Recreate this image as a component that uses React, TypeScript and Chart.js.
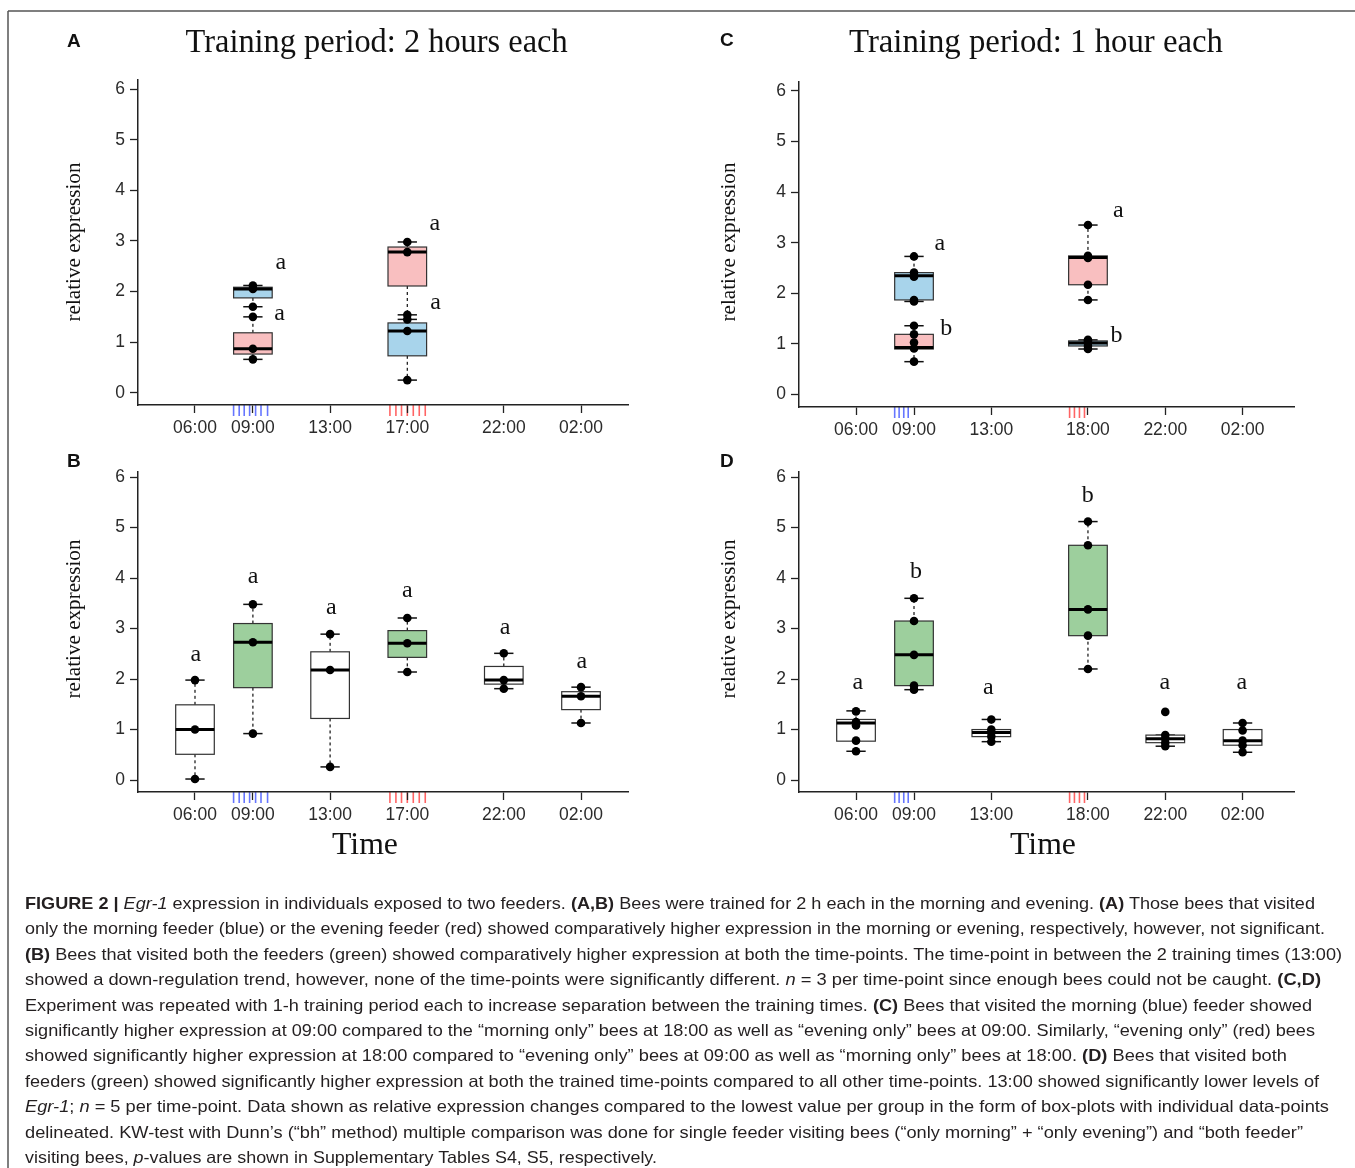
import React, { useEffect, useRef } from "react";
import { Chart, registerables } from "chart.js";
Chart.register(...registerables);

// ---------------- data ----------------
const yTickValues = [0, 1, 2, 3, 4, 5, 6];
const xTicks2h = [6, 9, 13, 17, 22, 26];
const xLabels2h = ["06:00", "09:00", "13:00", "17:00", "22:00", "02:00"];
const xTicks1h = [6, 9, 13, 18, 22, 26];
const xLabels1h = ["06:00", "09:00", "13:00", "18:00", "22:00", "02:00"];

// training visits (rug marks under the axis), hours
const rugMorning2h = [8.0, 8.29, 8.55, 8.83, 9.14, 9.42, 9.76];
const rugEvening2h = [16.1, 16.41, 16.7, 17.0, 17.31, 17.62, 17.93];
const rugMorning1h = [8.0, 8.23, 8.47, 8.7];
const rugEvening1h = [17.05, 17.3, 17.56, 17.82];

// Panel A: single feeder, 2 h training. stats = [low whisker, Q1, median, Q3, high whisker]
const aTimes = [9, 9, 17, 17];
const aFeeders = ["morning", "evening", "evening", "morning"];
const aStats = [
  [1.7, 1.875, 2.05, 2.085, 2.12],
  [0.66, 0.765, 0.87, 1.185, 1.5],
  [1.45, 2.11, 2.78, 2.88, 2.98],
  [0.25, 0.73, 1.22, 1.38, 1.54],
];
const aPoints = [
  [1.7, 2.05, 2.12],
  [0.66, 0.87, 1.5],
  [1.45, 2.78, 2.98],
  [0.25, 1.22, 1.54],
];
const aLetters = ["a", "a", "a", "a"];
const aLetterX = [10.45, 10.38, 18.43, 18.47];
const aLetterY = [2.55, 1.55, 3.32, 1.76];

// Panel B: both feeders, 2 h training
const bTimes = [6, 9, 13, 17, 22, 26];
const bFeeders = ["none", "both", "none", "both", "none", "none"];
const bStats = [
  [0.02, 0.51, 1.0, 1.49, 1.98],
  [0.92, 1.83, 2.73, 3.1, 3.48],
  [0.26, 1.22, 2.18, 2.54, 2.89],
  [2.14, 2.43, 2.71, 2.96, 3.21],
  [1.81, 1.9, 1.98, 2.25, 2.51],
  [1.13, 1.395, 1.66, 1.75, 1.84],
];
const bPoints = [
  [0.02, 1.0, 1.98],
  [0.92, 2.73, 3.48],
  [0.26, 2.18, 2.89],
  [2.14, 2.71, 3.21],
  [1.81, 1.98, 2.51],
  [1.13, 1.66, 1.84],
];
const bLetters = ["a", "a", "a", "a", "a", "a"];
const bLetterX = [6.04, 9.01, 13.06, 17.0, 22.06, 26.04];
const bLetterY = [2.46, 4.01, 3.4, 3.73, 2.99, 2.33];

// Panel C: single feeder, 1 h training
const cTimes = [9, 9, 18, 18];
const cFeeders = ["morning", "evening", "evening", "morning"];
const cStats = [
  [1.84, 1.87, 2.35, 2.41, 2.73],
  [0.65, 0.9, 0.93, 1.19, 1.36],
  [1.87, 2.17, 2.71, 2.74, 3.35],
  [0.9, 0.96, 1.02, 1.06, 1.08],
];
const cPoints = [
  [1.84, 1.87, 2.33, 2.41, 2.73],
  [0.65, 0.91, 1.03, 1.19, 1.36],
  [1.87, 2.17, 2.7, 2.74, 3.35],
  [0.9, 0.96, 1.02, 1.06, 1.08],
];
const cLetters = ["a", "b", "a", "b"];
const cLetterX = [10.33, 10.67, 19.57, 19.48];
const cLetterY = [2.97, 1.33, 3.61, 1.2];

// Panel D: both feeders, 1 h training
const dTimes = [6, 9, 13, 18, 22, 26];
const dFeeders = ["none", "both", "none", "both", "none", "none"];
const dStats = [
  [0.57, 0.77, 1.13, 1.2, 1.37],
  [1.79, 1.87, 2.48, 3.15, 3.6],
  [0.76, 0.86, 0.94, 1.0, 1.2],
  [2.2, 2.86, 3.38, 4.65, 5.12],
  [0.67, 0.74, 0.82, 0.89, 0.89],
  [0.55, 0.69, 0.78, 1.0, 1.13],
];
const dPoints = [
  [0.57, 0.78, 1.08, 1.15, 1.36],
  [1.79, 1.87, 2.48, 3.15, 3.6],
  [0.76, 0.86, 0.94, 1.0, 1.2],
  [2.2, 2.86, 3.38, 4.65, 5.12],
  [0.67, 0.74, 0.82, 0.89, 1.35],
  [0.55, 0.69, 0.78, 0.98, 1.13],
];
const dLetters = ["a", "b", "a", "b", "a", "a"];
const dLetterX = [6.09, 9.1, 12.85, 17.99, 21.98, 25.96];
const dLetterY = [1.91, 4.17, 1.81, 5.68, 1.91, 1.91];

// ---------------- styling ----------------
const FILL: Record<string, string> = {
  morning: "#a8d4eb",
  evening: "#f9bfc0",
  both: "#9dcf9d",
  none: "#ffffff",
};
const RUG_BLUE = "#6676ff";
const RUG_RED = "#ff6464";
const BOX_HALF = 1.0; // hours
const YW = 60;
const XH = 50;
const PT = 14;
const PR = 14;
const SANS = "'Liberation Sans', Arial, sans-serif";
const SERIF = "'Liberation Serif', 'Times New Roman', serif";

type PanelSpec = {
  area: { left: number; top: number; right: number; bottom: number };
  xMin: number;
  xMax: number;
  yMin: number;
  yMax: number;
  xTicks: number[];
  xLabels: string[];
  times: number[];
  feeders: string[];
  stats: number[][];
  points: number[][];
  letters: string[];
  letterX: number[];
  letterY: number[];
  rugBlue: number[];
  rugRed: number[];
};

const panels: PanelSpec[] = [
  {
    area: { left: 138, top: 78, right: 628, bottom: 405 },
    xMin: 3.047, xMax: 28.435, yMin: -0.242, yMax: 6.191,
    xTicks: xTicks2h, xLabels: xLabels2h,
    times: aTimes, feeders: aFeeders, stats: aStats, points: aPoints,
    letters: aLetters, letterX: aLetterX, letterY: aLetterY,
    rugBlue: rugMorning2h, rugRed: rugEvening2h,
  },
  {
    area: { left: 138, top: 470, right: 628, bottom: 792 },
    xMin: 3.047, xMax: 28.435, yMin: -0.237, yMax: 6.112,
    xTicks: xTicks2h, xLabels: xLabels2h,
    times: bTimes, feeders: bFeeders, stats: bStats, points: bPoints,
    letters: bLetters, letterX: bLetterX, letterY: bLetterY,
    rugBlue: rugMorning2h, rugRed: rugEvening2h,
  },
  {
    area: { left: 799, top: 80, right: 1294, bottom: 407 },
    xMin: 3.05, xMax: 28.66, yMin: -0.246, yMax: 6.187,
    xTicks: xTicks1h, xLabels: xLabels1h,
    times: cTimes, feeders: cFeeders, stats: cStats, points: cPoints,
    letters: cLetters, letterX: cLetterX, letterY: cLetterY,
    rugBlue: rugMorning1h, rugRed: rugEvening1h,
  },
  {
    area: { left: 799, top: 470, right: 1294, bottom: 792 },
    xMin: 3.05, xMax: 28.66, yMin: -0.237, yMax: 6.112,
    xTicks: xTicks1h, xLabels: xLabels1h,
    times: dTimes, feeders: dFeeders, stats: dStats, points: dPoints,
    letters: dLetters, letterX: dLetterX, letterY: dLetterY,
    rugBlue: rugMorning1h, rugRed: rugEvening1h,
  },
];

function makePlugin(spec: PanelSpec) {
  const line = (ctx: CanvasRenderingContext2D, x1: number, y1: number, x2: number, y2: number) => {
    ctx.beginPath();
    ctx.moveTo(x1, y1);
    ctx.lineTo(x2, y2);
    ctx.stroke();
  };
  return {
    id: "boxplotPanel",
    beforeDraw(chart: any) {
      const ctx = chart.ctx as CanvasRenderingContext2D;
      const xs = chart.scales.x;
      const y0 = chart.chartArea.bottom;
      ctx.save();
      ctx.lineWidth = 1.6;
      const rug = (vals: number[], color: string) => {
        ctx.strokeStyle = color;
        vals.forEach((v) => {
          const px = xs.getPixelForValue(v);
          line(ctx, px, y0, px, y0 + 11);
        });
      };
      rug(spec.rugBlue, RUG_BLUE);
      rug(spec.rugRed, RUG_RED);
      ctx.restore();
    },
    beforeDatasetsDraw(chart: any) {
      const ctx = chart.ctx as CanvasRenderingContext2D;
      const xs = chart.scales.x;
      const ys = chart.scales.y;
      ctx.save();
      spec.stats.forEach((s, i) => {
        const [lo, q1, med, q3, hi] = s;
        const cx = xs.getPixelForValue(spec.times[i]);
        const hw = xs.getPixelForValue(spec.times[i] + BOX_HALF) - cx;
        const pLo = ys.getPixelForValue(lo);
        const pQ1 = ys.getPixelForValue(q1);
        const pMed = ys.getPixelForValue(med);
        const pQ3 = ys.getPixelForValue(q3);
        const pHi = ys.getPixelForValue(hi);
        ctx.strokeStyle = "#111";
        ctx.lineWidth = 1.2;
        ctx.setLineDash([3, 3]);
        line(ctx, cx, pQ3, cx, pHi);
        line(ctx, cx, pQ1, cx, pLo);
        ctx.setLineDash([]);
        ctx.lineWidth = 1.5;
        line(ctx, cx - hw / 2, pHi, cx + hw / 2, pHi);
        line(ctx, cx - hw / 2, pLo, cx + hw / 2, pLo);
        ctx.fillStyle = FILL[spec.feeders[i]];
        ctx.fillRect(cx - hw, pQ3, 2 * hw, pQ1 - pQ3);
        ctx.lineWidth = 1.2;
        ctx.strokeStyle = "#333";
        ctx.strokeRect(cx - hw, pQ3, 2 * hw, pQ1 - pQ3);
        ctx.lineWidth = 3;
        ctx.strokeStyle = "#000";
        line(ctx, cx - hw, pMed, cx + hw, pMed);
      });
      ctx.restore();
    },
    afterDatasetsDraw(chart: any) {
      const ctx = chart.ctx as CanvasRenderingContext2D;
      const xs = chart.scales.x;
      const ys = chart.scales.y;
      ctx.save();
      ctx.fillStyle = "#111";
      ctx.font = `24px ${SERIF}`;
      ctx.textAlign = "center";
      ctx.textBaseline = "alphabetic";
      spec.letters.forEach((t, i) => {
        const px = xs.getPixelForValue(spec.letterX[i]);
        const py = ys.getPixelForValue(spec.letterY[i]);
        ctx.fillText(t, px, py + (t === "b" ? 8.2 : 5.4));
      });
      ctx.restore();
    },
  };
}

function Panel({ spec }: { spec: PanelSpec }) {
  const ref = useRef<HTMLCanvasElement | null>(null);
  const W = YW + (spec.area.right - spec.area.left) + PR;
  const H = PT + (spec.area.bottom - spec.area.top) + XH;
  useEffect(() => {
    const pts: { x: number; y: number }[] = [];
    spec.points.forEach((arr, i) => arr.forEach((v) => pts.push({ x: spec.times[i], y: v })));
    const chart = new Chart(ref.current as HTMLCanvasElement, {
      type: "scatter",
      data: {
        datasets: [
          {
            data: pts,
            pointRadius: 4.3,
            pointHoverRadius: 4.3,
            pointBackgroundColor: "#000",
            pointBorderWidth: 0,
            showLine: false,
          } as any,
        ],
      },
      plugins: [makePlugin(spec)],
      options: {
        animation: false,
        responsive: false,
        events: [],
        layout: { padding: { top: PT, right: PR, left: 0, bottom: 0 } },
        plugins: { legend: { display: false }, tooltip: { enabled: false }, title: { display: false } },
        scales: {
          x: {
            type: "linear",
            min: spec.xMin,
            max: spec.xMax,
            afterFit: (s: any) => {
              s.height = XH;
            },
            afterBuildTicks: (s: any) => {
              s.ticks = spec.xTicks.map((v) => ({ value: v }));
            },
            ticks: {
              autoSkip: false,
              maxRotation: 0,
              padding: 5,
              color: "#2b2b2b",
              font: { family: SANS, size: 17.5 },
              callback: (v: any) => {
                const k = spec.xTicks.indexOf(Number(v));
                return k >= 0 ? spec.xLabels[k] : "";
              },
            },
            grid: { display: true, drawOnChartArea: false, drawTicks: true, tickLength: 8, tickWidth: 1.3, tickColor: "#222" },
            border: { display: true, color: "#222", width: 1.5 },
          },
          y: {
            type: "linear",
            min: spec.yMin,
            max: spec.yMax,
            afterFit: (s: any) => {
              s.width = YW;
            },
            afterBuildTicks: (s: any) => {
              s.ticks = yTickValues.map((v) => ({ value: v }));
            },
            ticks: {
              autoSkip: false,
              padding: 5,
              color: "#2b2b2b",
              font: { family: SANS, size: 17.5 },
              callback: (v: any) => String(v),
            },
            grid: { display: true, drawOnChartArea: false, drawTicks: true, tickLength: 8, tickWidth: 1.3, tickColor: "#222" },
            border: { display: true, color: "#222", width: 1.5 },
          },
        },
      } as any,
    });
    return () => chart.destroy();
  }, []);
  return (
    <canvas
      ref={ref}
      width={W}
      height={H}
      style={{ position: "absolute", left: spec.area.left - YW, top: spec.area.top - PT, width: W, height: H }}
    />
  );
}

// ---------------- caption ----------------
type Seg = [string, string];
const captionLines: Seg[][] = [
  [["FIGURE 2 | ", "b"], ["Egr-1", "i"], [" expression in individuals exposed to two feeders. ", ""], ["(A,B)", "b"], [" Bees were trained for 2 h each in the morning and evening. ", ""], ["(A)", "b"], [" Those bees that visited", ""]],
  [["only the morning feeder (blue) or the evening feeder (red) showed comparatively higher expression in the morning or evening, respectively, however, not significant.", ""]],
  [["(B)", "b"], [" Bees that visited both the feeders (green) showed comparatively higher expression at both the time-points. The time-point in between the 2 training times (13:00)", ""]],
  [["showed a down-regulation trend, however, none of the time-points were significantly different. ", ""], ["n", "i"], [" = 3 per time-point since enough bees could not be caught. ", ""], ["(C,D)", "b"]],
  [["Experiment was repeated with 1-h training period each to increase separation between the training times. ", ""], ["(C)", "b"], [" Bees that visited the morning (blue) feeder showed", ""]],
  [["significantly higher expression at 09:00 compared to the \u201cmorning only\u201d bees at 18:00 as well as \u201cevening only\u201d bees at 09:00. Similarly, \u201cevening only\u201d (red) bees", ""]],
  [["showed significantly higher expression at 18:00 compared to \u201cevening only\u201d bees at 09:00 as well as \u201cmorning only\u201d bees at 18:00. ", ""], ["(D)", "b"], [" Bees that visited both", ""]],
  [["feeders (green) showed significantly higher expression at both the trained time-points compared to all other time-points. 13:00 showed significantly lower levels of", ""]],
  [["Egr-1", "i"], ["; ", ""], ["n", "i"], [" = 5 per time-point. Data shown as relative expression changes compared to the lowest value per group in the form of box-plots with individual data-points", ""]],
  [["delineated. KW-test with Dunn\u2019s (\u201cbh\u201d method) multiple comparison was done for single feeder visiting bees (\u201conly morning\u201d + \u201conly evening\u201d) and \u201cboth feeder\u201d", ""]],
  [["visiting bees, ", ""], ["p", "i"], ["-values are shown in Supplementary Tables S4, S5, respectively.", ""]],
];
const captionEnds = [1315, 1325, 1342, 1321, 1312, 1315, 1287, 1319, 1329, 1303, 657];

export default function App() {
  const capX = 25;
  const capBase = 909;
  const capStep = 25.4;
  return (
    <div style={{ position: "absolute", left: 0, top: 0, width: 1355, height: 1168, overflow: "hidden", background: "#fff" }}>
      {panels.map((p, i) => (
        <Panel key={i} spec={p} />
      ))}
      <svg width={1355} height={1168} style={{ position: "absolute", left: 0, top: 0, pointerEvents: "none" }}>
        <line x1={8} y1={11} x2={1355} y2={11} stroke="#555" strokeWidth={1.5} />
        <line x1={8} y1={11} x2={8} y2={1168} stroke="#555" strokeWidth={1.5} />
        {/* panel letters */}
        <g fontFamily={SANS} fontWeight={700} fontSize={19} fill="#111">
          <text x={67} y={47}>A</text>
          <text x={720} y={46}>C</text>
          <text x={67} y={467}>B</text>
          <text x={720} y={467}>D</text>
        </g>
        {/* titles */}
        <g fontFamily={SERIF} fontSize={33} fill="#111">
          <text x={185.6} y={51.7} textLength={382} lengthAdjust="spacingAndGlyphs">Training period: 2 hours each</text>
          <text x={849} y={51.7} textLength={374} lengthAdjust="spacingAndGlyphs">Training period: 1 hour each</text>
        </g>
        {/* y axis titles */}
        <g fontFamily={SERIF} fontSize={21} fill="#111" textAnchor="middle">
          <text transform="translate(80,242) rotate(-90)" textLength={159} lengthAdjust="spacingAndGlyphs">relative expression</text>
          <text transform="translate(735,242) rotate(-90)" textLength={159} lengthAdjust="spacingAndGlyphs">relative expression</text>
          <text transform="translate(80,619) rotate(-90)" textLength={159} lengthAdjust="spacingAndGlyphs">relative expression</text>
          <text transform="translate(735,619) rotate(-90)" textLength={159} lengthAdjust="spacingAndGlyphs">relative expression</text>
        </g>
        {/* x axis titles */}
        <g fontFamily={SERIF} fontSize={31} fill="#111">
          <text x={332} y={854.3} textLength={66} lengthAdjust="spacingAndGlyphs">Time</text>
          <text x={1010} y={854.3} textLength={66} lengthAdjust="spacingAndGlyphs">Time</text>
        </g>
        {/* caption */}
        <g fontFamily={SANS} fontSize={16.5} fill="#231f20" style={{ whiteSpace: "pre" }}>
          {captionLines.map((segs, i) => (
            <text key={i} x={capX} y={capBase + capStep * i} textLength={captionEnds[i] - capX} lengthAdjust="spacingAndGlyphs">
              {segs.map(([t, s], j) => (
                <tspan key={j} fontWeight={s === "b" ? 700 : 400} fontStyle={s === "i" ? "italic" : "normal"}>
                  {t}
                </tspan>
              ))}
            </text>
          ))}
        </g>
      </svg>
    </div>
  );
}
